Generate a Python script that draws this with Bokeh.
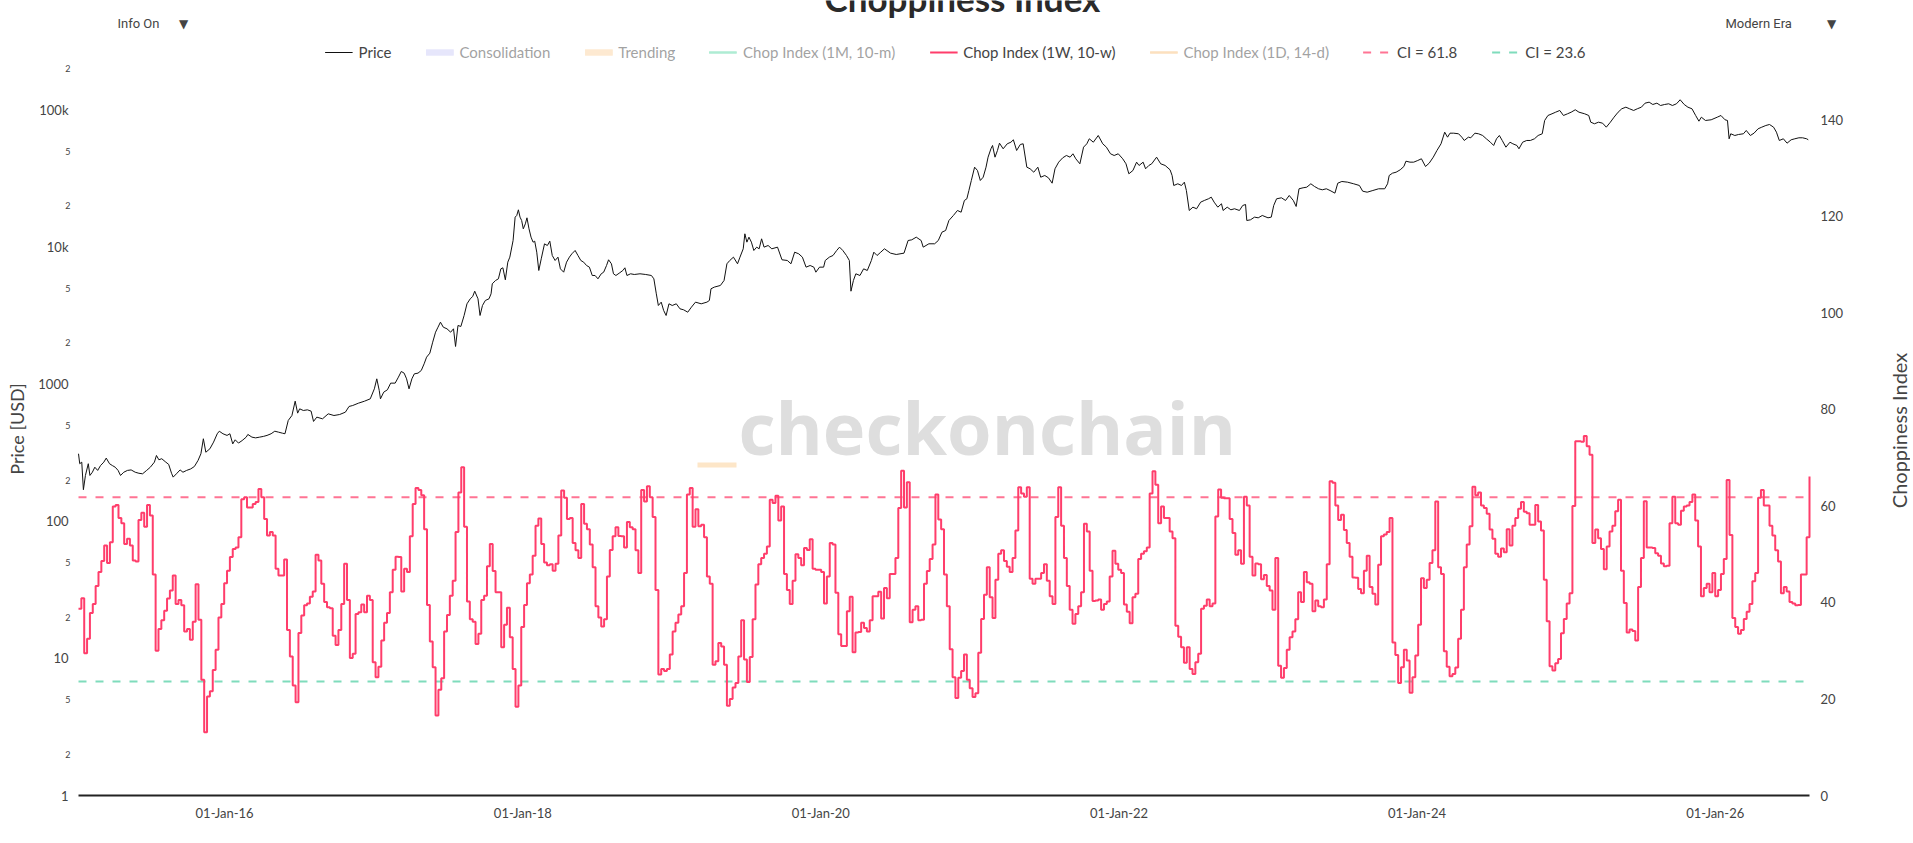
import math
import pandas as pd
from bokeh.plotting import figure
from bokeh.models import (Range1d, LinearAxis, LinearScale, FixedTicker, DatetimeTickFormatter,
                          Legend, LegendItem, Label, BoxAnnotation)
from bokeh.embed import file_html
from bokeh.resources import INLINE

# ---------------- data ----------------
chop_start = "2015-01-08"   # first weekly value; one value per week after that
chop_1w = [
    38.7, 40.9, 29.5, 32.5, 37.8, 39.7, 43.4, 46.3, 48.6, 51.8,
    48.2, 52.5, 59.9, 60.2, 57.5, 56.4, 52.1, 53.2, 51.8, 48.7,
    48.5, 57.1, 58.6, 55.7, 60.2, 58.0, 45.8, 30.0, 34.5, 36.3,
    38.3, 40.8, 42.5, 45.6, 39.7, 40.5, 39.4, 34.0, 34.5, 32.3,
    36.0, 43.8, 36.4, 24.0, 13.1, 20.5, 21.6, 26.0, 30.2, 36.9,
    39.7, 44.0, 46.6, 49.4, 51.1, 51.4, 53.5, 61.4, 61.8, 59.7,
    59.7, 60.4, 60.8, 63.5, 61.8, 57.3, 53.9, 54.6, 53.9, 47.0,
    45.6, 45.6, 48.9, 34.3, 28.8, 22.8, 19.3, 33.7, 37.3, 39.4,
    39.8, 41.2, 42.3, 49.9, 48.7, 43.9, 40.1, 39.0, 38.8, 33.1,
    31.2, 34.3, 39.7, 48.0, 40.5, 28.5, 29.4, 37.6, 38.0, 39.6,
    38.0, 41.4, 40.5, 27.6, 24.5, 26.7, 32.1, 35.8, 37.8, 42.1,
    46.8, 49.5, 49.4, 42.3, 47.0, 46.3, 53.7, 60.4, 63.7, 63.3,
    62.2, 55.2, 39.5, 31.9, 26.6, 16.6, 21.9, 24.3, 34.0, 37.4,
    41.4, 44.5, 54.6, 62.8, 68.0, 55.7, 40.2, 36.5, 36.0, 31.4,
    33.5, 40.5, 41.4, 47.5, 52.1, 46.5, 42.1, 42.1, 30.7, 35.4,
    38.9, 32.8, 26.2, 18.4, 22.8, 34.9, 39.5, 44.0, 45.8, 49.7,
    55.9, 57.4, 52.1, 48.3, 47.7, 47.9, 46.6, 48.0, 53.9, 63.2,
    61.7, 57.3, 57.5, 52.3, 50.8, 49.2, 60.4, 56.3, 55.2, 52.0,
    47.3, 39.2, 36.9, 35.0, 36.5, 45.4, 50.9, 53.7, 55.6, 53.8,
    53.7, 51.4, 56.7, 55.6, 55.2, 50.8, 46.1, 63.3, 60.9, 64.1,
    61.8, 57.7, 42.6, 25.1, 26.2, 25.8, 26.2, 29.2, 34.0, 35.8,
    37.5, 39.2, 46.1, 62.4, 63.7, 55.7, 59.3, 55.8, 56.1, 53.5,
    45.4, 43.9, 27.1, 27.8, 31.6, 30.9, 27.1, 18.6, 20.0, 22.4,
    23.3, 28.8, 36.3, 28.2, 23.5, 28.7, 36.5, 43.7, 47.9, 49.2,
    50.1, 51.6, 61.3, 60.6, 62.1, 57.0, 59.9, 45.9, 42.6, 39.7,
    44.5, 50.0, 49.2, 47.7, 51.3, 50.9, 53.1, 47.0, 46.8, 46.8,
    46.3, 39.8, 45.4, 52.3, 52.0, 42.0, 33.4, 31.0, 31.0, 38.2,
    41.2, 29.7, 33.8, 33.9, 35.8, 34.7, 34.0, 36.3, 41.3, 41.3,
    42.2, 36.7, 43.0, 40.9, 45.9, 45.9, 49.2, 59.6, 67.3, 59.7,
    64.9, 35.9, 38.5, 39.2, 36.3, 36.4, 43.9, 46.5, 49.0, 52.0,
    62.4, 57.2, 55.2, 45.8, 39.2, 30.3, 24.5, 20.2, 24.4, 25.8,
    29.2, 24.0, 22.2, 20.4, 21.2, 29.6, 36.6, 41.6, 47.3, 41.1,
    36.8, 44.7, 50.1, 50.8, 48.6, 47.4, 46.3, 49.2, 54.9, 63.9,
    62.6, 61.9, 63.9, 44.9, 43.9, 44.9, 44.9, 46.1, 47.9, 44.5,
    41.3, 39.7, 57.7, 63.9, 55.9, 49.2, 43.4, 38.5, 35.6, 37.6,
    39.2, 42.1, 56.3, 54.7, 46.6, 40.3, 40.4, 40.6, 38.5, 39.7,
    40.2, 45.4, 50.7, 48.0, 46.8, 46.1, 39.6, 38.1, 35.7, 41.1,
    41.8, 49.0, 50.1, 50.6, 51.4, 62.6, 67.2, 64.4, 56.4, 59.9,
    57.5, 57.5, 54.7, 53.3, 35.2, 32.9, 30.7, 27.5, 30.7, 26.2,
    25.2, 27.6, 29.4, 38.7, 39.3, 40.6, 39.2, 39.8, 57.8, 63.4,
    61.7, 61.6, 61.6, 57.3, 54.4, 49.9, 50.8, 48.0, 61.9, 60.1,
    49.5, 45.6, 48.1, 47.9, 44.8, 45.7, 43.4, 42.5, 38.5, 49.2,
    26.9, 24.4, 26.4, 30.2, 32.8, 34.0, 36.5, 42.1, 40.1, 46.3,
    44.2, 43.9, 38.2, 40.4, 39.2, 39.0, 40.6, 47.9, 65.1, 64.8,
    60.1, 57.1, 58.2, 55.0, 52.3, 49.5, 45.2, 45.1, 42.8, 41.9,
    46.6, 49.7, 43.2, 41.8, 39.6, 47.8, 53.7, 54.1, 54.6, 57.5,
    31.7, 29.1, 23.3, 26.6, 30.2, 28.0, 21.3, 24.5, 29.0, 35.4,
    45.0, 43.0, 44.7, 48.2, 50.8, 60.9, 47.3, 45.9, 29.9, 26.7,
    24.7, 25.2, 26.5, 32.5, 38.5, 47.3, 52.0, 55.8, 64.0, 62.2,
    62.8, 60.1, 59.6, 58.4, 55.1, 53.2, 50.1, 49.5, 51.2, 50.4,
    55.2, 51.8, 55.9, 57.5, 59.4, 60.8, 58.8, 58.5, 56.1, 56.1,
    60.2, 56.8, 54.9, 44.7, 36.1, 26.8, 25.9, 27.4, 28.3, 33.6,
    36.6, 39.8, 41.9, 60.0, 73.4, 73.4, 73.3, 74.5, 72.4, 70.6,
    52.3, 55.1, 53.3, 51.1, 46.9, 51.6, 54.7, 55.9, 58.9, 61.3,
    46.6, 39.9, 33.8, 34.4, 34.1, 32.1, 43.2, 49.2, 61.0, 51.4,
    51.4, 51.3, 50.2, 49.7, 48.1, 47.5, 47.6, 56.4, 61.9, 56.4,
    56.1, 59.0, 59.9, 60.1, 60.8, 62.4, 57.0, 51.6, 41.3, 43.0,
    43.9, 42.1, 46.1, 41.3, 42.6, 45.9, 49.0, 65.4, 54.0, 36.8,
    34.9, 33.5, 34.3, 36.6, 38.1, 39.7, 44.4, 46.1, 61.7, 63.3,
    60.1, 60.1, 55.9, 53.9, 50.8, 48.5, 41.9, 43.2, 42.3, 40.1,
    39.8, 39.4, 39.5, 45.8, 45.8, 53.5, 66.1,
]

ci_high = 61.8
ci_low = 23.6

price_dates = [
    "2015-01-08", "2015-01-11", "2015-01-16", "2015-01-20", "2015-01-25", "2015-02-01", "2015-02-05", "2015-02-11",
    "2015-02-17", "2015-02-24", "2015-03-03", "2015-03-11", "2015-03-17", "2015-03-25", "2015-04-01", "2015-04-08",
    "2015-04-15", "2015-04-21", "2015-04-29", "2015-05-08", "2015-05-17", "2015-05-27", "2015-06-05", "2015-06-14",
    "2015-06-24", "2015-07-03", "2015-07-13", "2015-07-18", "2015-07-24", "2015-07-31", "2015-08-10", "2015-08-17",
    "2015-08-24", "2015-08-28", "2015-09-05", "2015-09-14", "2015-09-21", "2015-09-30", "2015-10-10", "2015-10-19",
    "2015-10-28", "2015-11-04", "2015-11-10", "2015-11-16", "2015-11-26", "2015-12-05", "2015-12-14", "2015-12-19",
    "2015-12-28", "2016-01-07", "2016-01-14", "2016-01-21", "2016-01-27", "2016-02-04", "2016-02-13", "2016-02-23",
    "2016-02-27", "2016-03-08", "2016-03-17", "2016-03-27", "2016-04-05", "2016-04-14", "2016-04-24", "2016-05-03",
    "2016-05-12", "2016-05-22", "2016-05-28", "2016-06-05", "2016-06-14", "2016-06-22", "2016-06-28", "2016-07-03",
    "2016-07-12", "2016-07-22", "2016-07-31", "2016-08-06", "2016-08-14", "2016-08-28", "2016-09-11", "2016-09-25",
    "2016-10-09", "2016-10-23", "2016-11-01", "2016-11-10", "2016-11-24", "2016-12-09", "2016-12-23", "2017-01-02",
    "2017-01-08", "2017-01-14", "2017-01-17", "2017-01-25", "2017-02-03", "2017-02-11", "2017-02-22", "2017-03-02",
    "2017-03-09", "2017-03-16", "2017-03-22", "2017-03-28", "2017-04-04", "2017-04-10", "2017-04-19", "2017-04-27",
    "2017-05-04", "2017-05-10", "2017-05-18", "2017-05-25", "2017-06-01", "2017-06-07", "2017-06-13", "2017-06-20",
    "2017-06-29", "2017-07-08", "2017-07-15", "2017-07-20", "2017-07-26", "2017-08-02", "2017-08-10", "2017-08-17",
    "2017-08-25", "2017-08-31", "2017-09-05", "2017-09-13", "2017-09-18", "2017-09-24", "2017-10-01", "2017-10-10",
    "2017-10-15", "2017-10-18", "2017-10-26", "2017-11-02", "2017-11-08", "2017-11-13", "2017-11-19", "2017-11-25",
    "2017-11-30", "2017-12-08", "2017-12-13", "2017-12-17", "2017-12-21", "2017-12-25", "2017-12-29", "2018-01-02",
    "2018-01-07", "2018-01-11", "2018-01-16", "2018-01-21", "2018-01-26", "2018-01-30", "2018-02-04", "2018-02-09",
    "2018-02-15", "2018-02-23", "2018-03-02", "2018-03-08", "2018-03-14", "2018-03-21", "2018-03-28", "2018-04-03",
    "2018-04-11", "2018-04-18", "2018-04-25", "2018-05-01", "2018-05-09", "2018-05-16", "2018-05-23", "2018-05-30",
    "2018-06-06", "2018-06-13", "2018-06-20", "2018-06-27", "2018-07-04", "2018-07-12", "2018-07-18", "2018-07-25",
    "2018-07-30", "2018-08-06", "2018-08-11", "2018-08-17", "2018-08-25", "2018-09-03", "2018-09-08", "2018-09-13",
    "2018-09-22", "2018-10-01", "2018-10-15", "2018-10-29", "2018-11-12", "2018-11-18", "2018-11-24", "2018-11-29",
    "2018-12-06", "2018-12-12", "2018-12-18", "2018-12-25", "2019-01-02", "2019-01-12", "2019-01-21", "2019-01-30",
    "2019-02-09", "2019-02-18", "2019-02-28", "2019-03-14", "2019-03-28", "2019-04-03", "2019-04-07", "2019-04-15",
    "2019-04-30", "2019-05-09", "2019-05-16", "2019-05-23", "2019-06-01", "2019-06-11", "2019-06-17", "2019-06-25",
    "2019-06-29", "2019-07-04", "2019-07-09", "2019-07-15", "2019-07-21", "2019-07-28", "2019-08-03", "2019-08-09",
    "2019-08-15", "2019-08-25", "2019-09-03", "2019-09-17", "2019-09-28", "2019-10-11", "2019-10-20", "2019-10-29",
    "2019-11-08", "2019-11-17", "2019-11-26", "2019-12-06", "2019-12-15", "2019-12-20", "2019-12-29", "2020-01-08",
    "2020-01-12", "2020-01-22", "2020-01-31", "2020-02-09", "2020-02-16", "2020-02-24", "2020-03-04", "2020-03-11",
    "2020-03-15", "2020-03-21", "2020-03-27", "2020-04-06", "2020-04-15", "2020-04-24", "2020-05-04", "2020-05-10",
    "2020-05-18", "2020-05-27", "2020-06-05", "2020-06-20", "2020-07-04", "2020-07-23", "2020-08-02", "2020-08-11",
    "2020-08-22", "2020-09-03", "2020-09-08", "2020-09-22", "2020-10-06", "2020-10-15", "2020-10-24", "2020-11-02",
    "2020-11-10", "2020-11-21", "2020-12-01", "2020-12-10", "2020-12-18", "2020-12-24", "2020-12-29", "2021-01-04",
    "2021-01-12", "2021-01-19", "2021-01-26", "2021-02-02", "2021-02-09", "2021-02-14", "2021-02-21", "2021-02-25",
    "2021-03-03", "2021-03-09", "2021-03-14", "2021-03-23", "2021-04-02", "2021-04-11", "2021-04-17", "2021-04-25",
    "2021-05-04", "2021-05-11", "2021-05-20", "2021-05-28", "2021-06-06", "2021-06-16", "2021-06-23", "2021-07-03",
    "2021-07-12", "2021-07-21", "2021-07-28", "2021-08-06", "2021-08-16", "2021-08-25", "2021-09-03", "2021-09-10",
    "2021-09-17", "2021-09-27", "2021-10-06", "2021-10-14", "2021-10-20", "2021-10-30", "2021-11-11", "2021-11-22",
    "2021-12-01", "2021-12-11", "2021-12-20", "2021-12-30", "2022-01-10", "2022-01-18", "2022-01-25", "2022-02-04",
    "2022-02-13", "2022-02-19", "2022-03-01", "2022-03-07", "2022-03-15", "2022-03-22", "2022-04-03", "2022-04-13",
    "2022-04-24", "2022-05-06", "2022-05-11", "2022-05-15", "2022-05-25", "2022-06-03", "2022-06-10", "2022-06-15",
    "2022-06-22", "2022-07-01", "2022-07-10", "2022-07-20", "2022-07-29", "2022-08-08", "2022-08-15", "2022-08-22",
    "2022-08-31", "2022-09-09", "2022-09-13", "2022-09-23", "2022-10-02", "2022-10-11", "2022-10-23", "2022-10-31",
    "2022-11-07", "2022-11-10", "2022-11-19", "2022-11-29", "2022-12-08", "2022-12-18", "2023-01-01", "2023-01-09",
    "2023-01-15", "2023-01-22", "2023-02-03", "2023-02-13", "2023-02-22", "2023-03-04", "2023-03-11", "2023-03-18",
    "2023-03-28", "2023-04-06", "2023-04-16", "2023-04-25", "2023-05-05", "2023-05-14", "2023-05-24", "2023-06-02",
    "2023-06-14", "2023-06-21", "2023-07-01", "2023-07-15", "2023-07-30", "2023-08-13", "2023-08-21", "2023-09-01",
    "2023-09-15", "2023-09-29", "2023-10-14", "2023-10-21", "2023-10-25", "2023-11-02", "2023-11-11", "2023-11-21",
    "2023-11-30", "2023-12-05", "2023-12-15", "2023-12-24", "2024-01-03", "2024-01-12", "2024-01-22", "2024-01-31",
    "2024-02-10", "2024-02-19", "2024-02-29", "2024-03-09", "2024-03-16", "2024-03-22", "2024-03-31", "2024-04-12",
    "2024-04-20", "2024-04-26", "2024-05-06", "2024-05-12", "2024-05-22", "2024-05-31", "2024-06-10", "2024-06-19",
    "2024-06-29", "2024-07-07", "2024-07-14", "2024-07-21", "2024-07-28", "2024-08-06", "2024-08-16", "2024-08-23",
    "2024-09-02", "2024-09-07", "2024-09-16", "2024-09-26", "2024-10-05", "2024-10-15", "2024-10-24", "2024-11-03",
    "2024-11-09", "2024-11-17", "2024-11-27", "2024-12-06", "2024-12-16", "2024-12-25", "2025-01-04", "2025-01-13",
    "2025-01-23", "2025-02-01", "2025-02-15", "2025-02-25", "2025-03-02", "2025-03-11", "2025-03-21", "2025-03-31",
    "2025-04-09", "2025-04-19", "2025-04-28", "2025-05-08", "2025-05-17", "2025-05-27", "2025-06-05", "2025-06-15",
    "2025-06-24", "2025-07-04", "2025-07-13", "2025-07-23", "2025-08-01", "2025-08-11", "2025-08-20", "2025-08-30",
    "2025-09-09", "2025-09-18", "2025-09-28", "2025-10-07", "2025-10-17", "2025-10-26", "2025-11-05", "2025-11-14",
    "2025-11-22", "2025-11-28", "2025-12-08", "2025-12-22", "2026-01-06", "2026-01-15", "2026-01-25", "2026-01-31",
    "2026-02-04", "2026-02-08", "2026-02-18", "2026-02-27", "2026-03-11", "2026-03-18", "2026-03-28", "2026-04-06",
    "2026-04-16", "2026-04-25", "2026-05-05", "2026-05-14", "2026-05-24", "2026-05-31", "2026-06-07", "2026-06-17",
    "2026-06-26", "2026-07-06", "2026-07-15", "2026-07-25", "2026-08-03", "2026-08-13", "2026-08-17",
]
price_values = [
    311, 263, 270, 170, 216, 263, 216, 228,
    248, 235, 255, 270, 289, 263, 255, 248,
    235, 216, 228, 235, 237, 228, 224, 222,
    235, 248, 270, 302, 281, 286, 270, 260,
    224, 210, 222, 237, 228, 235, 241, 251,
    278, 311, 400, 319, 338, 378, 435, 454,
    435, 423, 435, 367, 393, 372, 388, 411,
    430, 411, 406, 411, 416, 423, 435, 454,
    447, 439, 435, 544, 591, 752, 615, 661,
    643, 650, 636, 535, 575, 559, 608, 591,
    601, 625, 688, 699, 727, 752, 782, 925,
    1094, 900, 782, 875, 910, 1018, 1018, 1126,
    1238, 1204, 1094, 925, 1094, 1190, 1204, 1259,
    1408, 1574, 1684, 2025, 2395, 2605, 2834, 2605,
    2535, 2395, 2535, 1884, 2681, 2636, 3170, 3858,
    4197, 4362, 4768, 4197, 3170, 3750, 4079, 4197,
    4561, 5398, 5707, 5869, 6941, 7062, 5771, 7762,
    8446, 11170, 16540, 17004, 18700, 16540, 15630, 13590,
    14778, 16350, 13590, 11815, 10860, 11045, 9180, 6750,
    8213, 10560, 10270, 11045, 8683, 7987, 8446, 6941,
    6561, 7762, 8446, 8930, 9446, 8683, 7987, 7762,
    7342, 7140, 6207, 6207, 5869, 6386, 6561, 7342,
    8080, 7554, 6386, 6207, 6452, 6750, 7062, 6207,
    6386, 6311, 6386, 6311, 6207, 5869, 4561, 3750,
    3967, 3448, 3170, 3858, 3750, 3858, 3546, 3487,
    3351, 3646, 3967, 3858, 3967, 4079, 4964, 5104,
    5248, 5707, 7554, 7987, 8446, 7554, 8446, 9717,
    12500, 10865, 11815, 10865, 9446, 9989, 9717, 11490,
    9989, 10270, 9717, 9989, 8080, 7987, 7554, 9180,
    8930, 8446, 7140, 7342, 7140, 6561, 7140, 7140,
    7987, 8446, 8683, 9446, 9989, 9446, 8683, 7987,
    4768, 5707, 6386, 6207, 6941, 6750, 7987, 9180,
    8683, 9180, 9717, 9032, 8831, 9032, 11170, 11298,
    11815, 11170, 9989, 10570, 10570, 11170, 12850, 13215,
    15630, 17004, 18493, 17970, 21880, 22500, 25870, 30610,
    38270, 36200, 30610, 32340, 38270, 45270, 52120, 55100,
    45270, 50660, 57260, 52120, 56680, 58220, 60620, 50660,
    56030, 56680, 38270, 37250, 35180, 38270, 32340, 33280,
    32010, 29250, 37250, 41630, 44800, 46570, 45270, 47920,
    44060, 40510, 53550, 56680, 61650, 58220, 65160, 56680,
    53550, 47920, 46570, 47920, 44060, 40510, 34240, 36200,
    41630, 39380, 41630, 37250, 39380, 40510, 45270, 40510,
    39380, 36610, 33280, 28140, 28950, 28140, 29750, 25870,
    18493, 19550, 19030, 21270, 21880, 22500, 23120, 21270,
    19550, 20700, 18493, 19550, 18710, 19030, 18493, 20110,
    20450, 15630, 15810, 16540, 16350, 17004, 16350, 16540,
    20110, 22500, 22880, 21880, 23790, 21880, 19780, 26620,
    27070, 27350, 28950, 27670, 26620, 26180, 26620, 25870,
    24740, 29250, 30100, 29750, 28950, 28140, 25570, 25140,
    25870, 26620, 26620, 28950, 33280, 34600, 35180, 36620,
    38710, 42310, 41630, 41630, 42820, 44060, 38710, 40930,
    45270, 50660, 56680, 68880, 63330, 67730, 67730, 67050,
    63330, 59920, 63330, 62690, 67730, 67050, 65160, 61650,
    58220, 55100, 61650, 65160, 59920, 53550, 58220, 56680,
    55100, 52120, 58220, 59920, 59920, 61650, 65160, 67050,
    83840, 91170, 93820, 96380, 99170, 91170, 93820, 96380,
    100350, 96380, 93820, 91170, 81470, 79320, 81470, 80110,
    74920, 81470, 88620, 96380, 102050, 104830, 102050, 99170,
    102050, 104830, 112130, 114030, 109660, 112130, 107840, 109660,
    110970, 107840, 110970, 118700, 109660, 104830, 102050, 91170,
    82860, 88620, 83840, 84830, 88620, 91170, 84830, 83840,
    61650, 67050, 65160, 66260, 67050, 70890, 65160, 67730,
    72930, 74920, 77070, 78380, 74920, 68880, 59920, 61650,
    57260, 60620, 61650, 62690, 62690, 61650, 60620,
]

x_tick_dates = ["2016-01-01", "2018-01-01", "2020-01-01", "2022-01-01", "2024-01-01", "2026-01-01"]
price_top = 222000
price_major_ticks = [1, 10, 100, 1000, 10000, 100000]
price_major_labels = ["1", "10", "100", "1000", "10k", "100k"]
price_minor_ticks = [2, 5, 20, 50, 200, 500, 2000, 5000, 20000, 50000, 200000]
price_minor_labels = ["2", "5", "2", "5", "2", "5", "2", "5", "2", "5", "2"]
chop_top = 151.9
chop_ticks = [0, 20, 40, 60, 80, 100, 120, 140]

legend_labels = ["Price", "Consolidation", "Trending", "Chop Index (1M, 10-m)",
                 "Chop Index (1W, 10-w)", "Chop Index (1D, 14-d)",
                 "CI = " + str(ci_high), "CI = " + str(ci_low)]

# ---------------- geometry / styling ----------------
W, H = 1910, 840                # canvas (the page places it at its top-left corner)
L, R, T, B = 78, 1809, 62, 795  # plotting area inside the canvas (px, y down)
FONT = "Lato"
TXT = "#444444"
C_PRICE = "#111111"
C_CHOP = "#ff3d6b"
C_HI = "#ff7494"
C_LO = "#7fdcbc"
NAN = float("nan")

chop_dates = pd.date_range(chop_start, periods=len(chop_1w), freq="7D")
pdates = pd.to_datetime(price_dates)
x0, x1 = chop_dates[0], chop_dates[-1]
x0_ms, x1_ms = x0.value / 1e6, x1.value / 1e6

# extend ranges so the whole canvas is the frame and the data sit in L..R / T..B
dpp = (x1_ms - x0_ms) / (R - L)
xs, xe = x0_ms - L * dpp, x1_ms + (W - R) * dpp
ltop = math.log10(price_top)
ppd = (B - T) / ltop
ys, ye = 10 ** (-(H - B) / ppd), 10 ** (ltop + T / ppd)
upp = chop_top / (B - T)
cs, ce = -(H - B) * upp, chop_top + T * upp

p = figure(width=W, height=H, x_axis_type="datetime", y_axis_type="log",
           x_range=Range1d(xs, xe), y_range=Range1d(ys, ye),
           output_backend="svg", toolbar_location=None,
           min_border=0, min_border_left=0, min_border_right=0,
           min_border_top=0, min_border_bottom=0,
           background_fill_color="white", border_fill_color="white")
p.outline_line_color = None
p.grid.visible = False
p.extra_y_ranges = {"chop": Range1d(cs, ce)}
p.extra_y_scales = {"chop": LinearScale()}

# left (price) axis
ya = p.yaxis[0]
ya.fixed_location = x0_ms
ya.bounds = (1, price_top)
ya.ticker = FixedTicker(ticks=price_major_ticks, minor_ticks=[])
ya.major_label_overrides = {t: l for t, l in zip(price_major_ticks, price_major_labels)}
ya.axis_line_color = None
ya.major_tick_line_color = None
ya.minor_tick_line_color = None
ya.major_label_standoff = 4
ya.major_label_text_font = FONT
ya.major_label_text_font_size = "13px"
ya.major_label_text_color = TXT
ya.axis_label = "Price [USD]"
ya.axis_label_standoff = 7
ya.axis_label_text_font = FONT
ya.axis_label_text_font_size = "18px"
ya.axis_label_text_font_style = "normal"
ya.axis_label_text_color = TXT

# bottom (date) axis
xa = p.xaxis[0]
xa.fixed_location = 1
xa.bounds = (x0_ms, x1_ms)
xa.ticker = FixedTicker(ticks=[pd.Timestamp(d).value / 1e6 for d in x_tick_dates], minor_ticks=[])
fmt = "%d-%b-%y"
xa.formatter = DatetimeTickFormatter(years=fmt, months=fmt, days=fmt, hours=fmt,
                                     minutes=fmt, seconds=fmt, milliseconds=fmt)
xa.axis_line_color = "#222222"
xa.axis_line_width = 2
xa.major_tick_line_color = None
xa.minor_tick_line_color = None
xa.major_label_standoff = 3
xa.major_label_text_font = FONT
xa.major_label_text_font_size = "13px"
xa.major_label_text_color = TXT

# right (chop) axis
ra = LinearAxis(y_range_name="chop", fixed_location=x1_ms, bounds=(0, chop_top),
                ticker=FixedTicker(ticks=chop_ticks, minor_ticks=[]))
ra.axis_line_color = None
ra.major_tick_line_color = None
ra.minor_tick_line_color = None
ra.major_label_standoff = 5
ra.major_label_text_font = FONT
ra.major_label_text_font_size = "13px"
ra.major_label_text_color = TXT
p.add_layout(ra, "right")

# ---------------- glyphs ----------------
r_hi = p.line([x0, x1], [ci_high, ci_high], y_range_name="chop",
              line_color=C_HI, line_width=2, line_dash="8 9")
r_lo = p.line([x0, x1], [ci_low, ci_low], y_range_name="chop",
              line_color=C_LO, line_width=2, line_dash="8 9")
r_chop = p.step(chop_dates, chop_1w, mode="after", y_range_name="chop",
                line_color=C_CHOP, line_width=2)
r_price = p.line(pdates, price_values, line_color=C_PRICE, line_width=1)

# series switched off in the reference: a swatch renderer (no drawable data)
# plus a hidden twin so that the legend shows them as inactive
def legend_only(color, width, yname=None):
    kw = {"y_range_name": yname} if yname else {}
    swatch = p.line([x0, x1], [NAN, NAN], line_color=color, line_width=width, **kw)
    hidden = p.line([x0, x1], [NAN, NAN], line_color=color, line_width=width,
                    visible=False, **kw)
    return [swatch, hidden]

r_cons = legend_only("#cdcdf7", 6)
r_trend = legend_only("#fbd3a3", 6)
r_1m = legend_only("#5cd8a6", 2, "chop")
r_1d = legend_only("#f8c07c", 2, "chop")

renderers = [[r_price], r_cons, r_trend, r_1m, [r_chop], r_1d, [r_hi], [r_lo]]
legend = Legend(items=[LegendItem(label=l, renderers=r) for l, r in zip(legend_labels, renderers)],
                orientation="horizontal", location="top_center", click_policy="hide",
                label_text_font=FONT, label_text_font_size="15px", label_text_color=TXT,
                glyph_width=28, glyph_height=20, label_height=20, label_standoff=6,
                spacing=34, padding=0, margin=42,
                border_line_alpha=0, background_fill_alpha=0,
                inactive_fill_color="white", inactive_fill_alpha=0.5)
p.add_layout(legend)

# minor price tick labels (2, 5) in a smaller size, next to the major ones
for t, l in zip(price_minor_ticks, price_minor_labels):
    p.add_layout(Label(x=L - 8, x_units="screen", y=t, y_units="data", text=l,
                       text_align="right", text_baseline="middle",
                       text_font=FONT, text_font_size="9px", text_color=TXT))

# right axis title (reads bottom to top)
p.add_layout(Label(x=1898, y=H - 430, x_units="screen", y_units="screen", text="Choppiness Index",
                   angle=math.pi / 2, text_align="center", text_baseline="middle",
                   text_font=FONT, text_font_size="20px", text_color=TXT))

# watermark
p.add_layout(BoxAnnotation(left=697, right=736, bottom=H - 467, top=H - 462,
                           left_units="screen", right_units="screen",
                           bottom_units="screen", top_units="screen",
                           fill_color="#fde6c8", fill_alpha=1, line_alpha=0, level="underlay"))
p.add_layout(Label(x=738, y=H - 426, x_units="screen", y_units="screen", text="checkonchain",
                   text_font="Open Sans", text_font_style="bold", text_font_size="72px",
                   text_color="#dedede", text_align="left", text_baseline="alphabetic",
                   level="underlay"))

# title (partly cut at the top, as in the reference)
p.add_layout(Label(x=962, y=H + 3, x_units="screen", y_units="screen", text="Choppiness Index",
                   text_font=FONT, text_font_style="bold", text_font_size="35px",
                   text_color="#2a2a2a", text_align="center", text_baseline="alphabetic"))

# menu labels
for tx, xx, fnt in [("Info On", 117, "Roboto"), ("\u25BC", 183, "DejaVu Sans"),
                    ("Modern Era", 1725, "Roboto"), ("\u25BC", 1831, "DejaVu Sans")]:
    p.add_layout(Label(x=xx, y=H - 23, x_units="screen", y_units="screen", text=tx,
                       text_font=fnt, text_font_size="13px" if fnt == "Roboto" else "12px",
                       text_color=TXT,
                       text_align="left" if fnt == "Roboto" else "center",
                       text_baseline="middle"))

open("out.html", "w").write(file_html(p, INLINE))
